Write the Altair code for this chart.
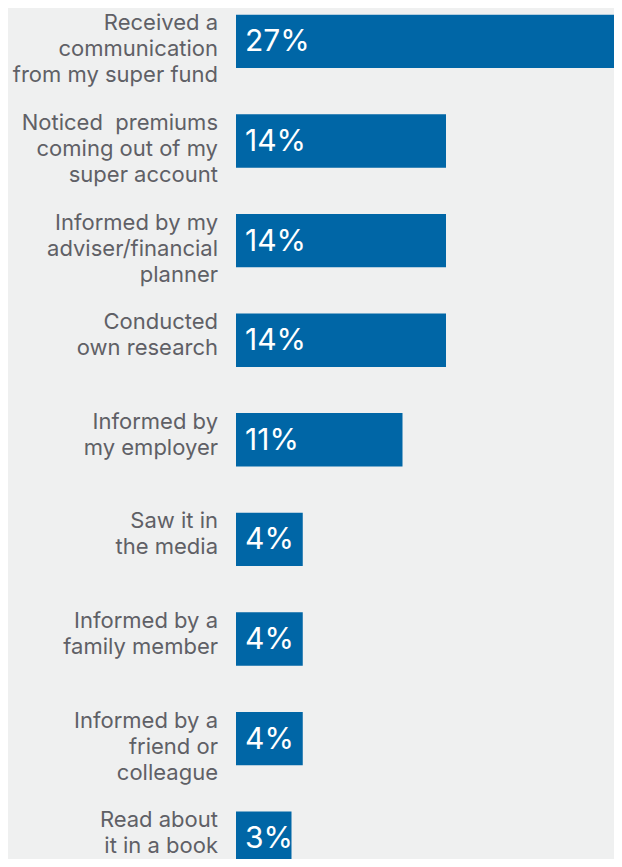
import altair as alt
import pandas as pd

categories = [
    "Received a\ncommunication\nfrom my super fund",
    "Noticed\u00a0 premiums\ncoming out of my\nsuper account",
    "Informed by my\nadviser/financial\nplanner",
    "Conducted\nown research",
    "Informed by\nmy employer",
    "Saw it in\nthe media",
    "Informed by a\nfamily member",
    "Informed by a\nfriend or\ncolleague",
    "Read about\nit in a book",
]
values = [27.3, 14.0, 14.0, 14.0, 11.1, 4.45, 4.45, 4.45, 3.7]
labels = ["27%", "14%", "14%", "14%", "11%", "4%", "4%", "4%", "3%"]

df = pd.DataFrame({"cat": categories, "value": values, "label": labels})

BLUE = "#0066a6"
BG = "#eff0f0"
TEXT = "#5f6066"

y = alt.Y("cat:N", sort=categories, axis=None,
          scale=alt.Scale(range=[-16.4, 880], paddingInner=0.464, paddingOuter=0.232))
x = alt.X("value:Q", axis=None,
          scale=alt.Scale(domain=[0, 30], range=[228, 678], nice=False, zero=True))

bars = alt.Chart(df).mark_bar(color=BLUE, clip=True).encode(x=x, y=y)

pct = alt.Chart(df).mark_text(
    align="left", baseline="middle", color="white", fontSize=30,
    font="Inter", dy=1
).encode(y=y, x=alt.value(237), text="label:N")

cats = alt.Chart(df).mark_text(
    align="right", baseline="middle", color=TEXT, fontSize=22,
    font="Inter", lineBreak="\n", lineHeight=26, dy=-18
).encode(y=y, x=alt.value(210), text="cat:N")

chart = alt.layer(bars, pct, cats).properties(
    width=606, height=851, background=BG, padding=0,
    autosize=alt.AutoSizeParams(type="none")
).configure_view(stroke=None)

chart.save("out.html", embed_options={"renderer": "svg", "actions": False})
